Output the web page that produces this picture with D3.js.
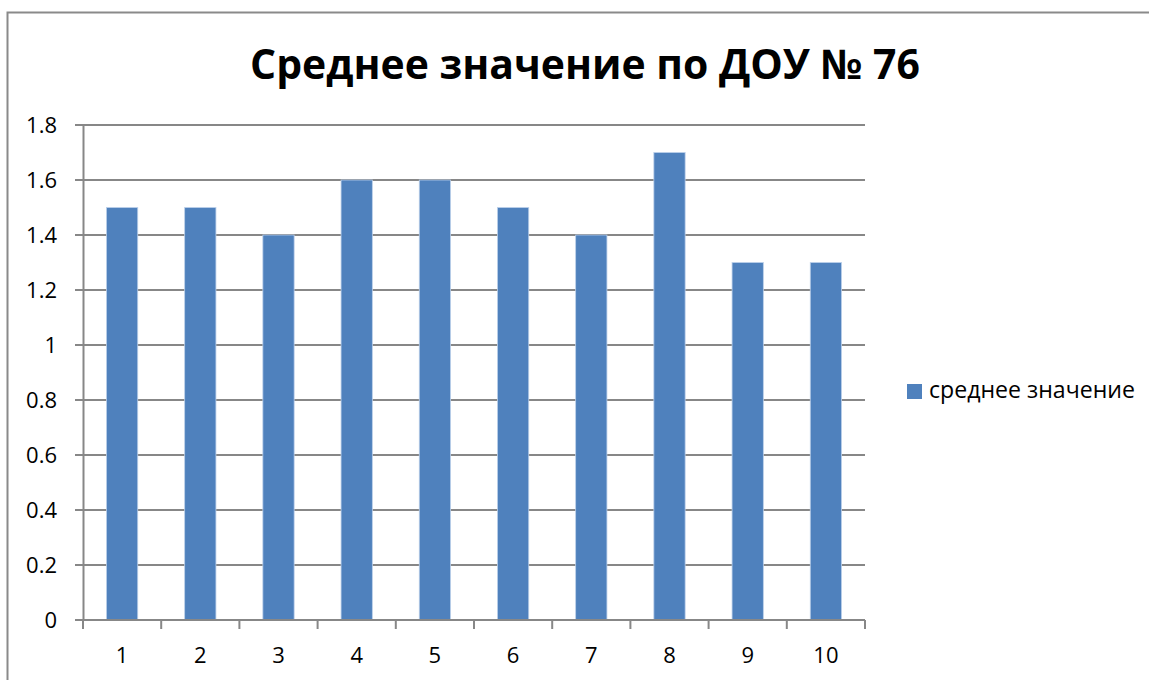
<!DOCTYPE html>
<html>
<head>
<meta charset="utf-8">
<script src="https://cdn.jsdelivr.net/npm/d3@7"></script>
<style>
  body { margin: 0; background: #fff; }
  text { font-family: "Open Sans", "Noto Sans", sans-serif; fill: #000; }
</style>
</head>
<body>
<svg id="chart"></svg>
<script>
let categories = ["1", "2", "3", "4", "5", "6", "7", "8", "9", "10"];
let values = [1.5, 1.5, 1.4, 1.6, 1.6, 1.5, 1.4, 1.7, 1.3, 1.3];
let yTicks = [0, 0.2, 0.4, 0.6, 0.8, 1, 1.2, 1.4, 1.6, 1.8];
let title = "Среднее значение по ДОУ № 76";
let seriesName = "среднее значение";

let width = 1149;
let height = 680;
let plot = { left: 83, right: 865, top: 125, bottom: 620 };
let barColor = "#4f81bd";
let gridColor = "#878787";

let svg = d3.select("#chart").attr("width", width).attr("height", height);

// outer chart border
svg.append("rect")
    .attr("x", 7.5).attr("y", 12.5)
    .attr("width", width + 20).attr("height", height + 20)
    .attr("fill", "#fff")
    .attr("stroke", "#8a8a8a")
    .attr("stroke-width", 2);

let xScale = d3.scaleBand()
    .domain(categories)
    .range([plot.left, plot.right])
    .paddingInner(0.6)
    .paddingOuter(0.3);

let yScale = d3.scaleLinear()
    .domain([0, 1.8])
    .range([plot.bottom, plot.top]);

// gridlines
svg.append("g")
    .selectAll("line")
    .data(yTicks)
    .enter()
    .append("line")
    .attr("x1", plot.left - 8)
    .attr("x2", plot.right)
    .attr("y1", d => yScale(d))
    .attr("y2", d => yScale(d))
    .attr("stroke", gridColor)
    .attr("stroke-width", 2);

// y axis
let yAxis = d3.axisLeft(yScale).tickValues(yTicks).tickSize(0).tickPadding(26)
    .tickFormat(d => String(d));
let yG = svg.append("g")
    .attr("transform", "translate(" + plot.left + ",0)")
    .call(yAxis);
yG.attr("font-size", null).attr("font-family", null);
yG.select(".domain").attr("stroke", gridColor).attr("stroke-width", 2);
yG.selectAll("text")
    .style("font-size", "22px")
    .style("font-family", "'Open Sans', sans-serif")
    .attr("dy", "0.36em");

// bars
svg.append("g")
    .selectAll("rect")
    .data(values)
    .enter()
    .append("rect")
    .attr("x", (d, i) => xScale(categories[i]))
    .attr("width", xScale.bandwidth())
    .attr("y", d => yScale(d))
    .attr("height", d => yScale(0) - yScale(d))
    .attr("fill", barColor)
    .attr("stroke", "#bcd0ea")
    .attr("stroke-width", 0.8);

// x axis (ticks between categories)
let step = (plot.right - plot.left) / categories.length;
let xG = svg.append("g").attr("transform", "translate(0," + plot.bottom + ")");
xG.append("line")
    .attr("x1", plot.left).attr("x2", plot.right)
    .attr("stroke", gridColor).attr("stroke-width", 2);
xG.selectAll(".tk")
    .data(d3.range(categories.length + 1))
    .enter()
    .append("line")
    .attr("x1", i => plot.left + i * step)
    .attr("x2", i => plot.left + i * step)
    .attr("y1", 0).attr("y2", 9)
    .attr("stroke", gridColor).attr("stroke-width", 2);
xG.selectAll(".lbl")
    .data(categories)
    .enter()
    .append("text")
    .attr("x", d => xScale(d) + xScale.bandwidth() / 2)
    .attr("y", 43)
    .attr("text-anchor", "middle")
    .style("font-size", "22px")
    .text(d => d);

// title
let t = svg.append("text")
    .attr("x", 585)
    .attr("y", 79)
    .attr("text-anchor", "middle")
    .attr("font-weight", "bold")
    .style("font-size", "38px")
    .text(title);
let tw = t.node().getComputedTextLength();
t.style("font-size", (38 * 670 / tw) + "px");

// legend
svg.append("rect")
    .attr("x", 907).attr("y", 384)
    .attr("width", 15).attr("height", 15)
    .attr("fill", barColor);
let lt = svg.append("text")
    .attr("x", 929).attr("y", 398)
    .style("font-size", "20px")
    .text(seriesName);
let lw = lt.node().getComputedTextLength();
lt.style("font-size", (20 * 206 / lw) + "px");
</script>
</body>
</html>
